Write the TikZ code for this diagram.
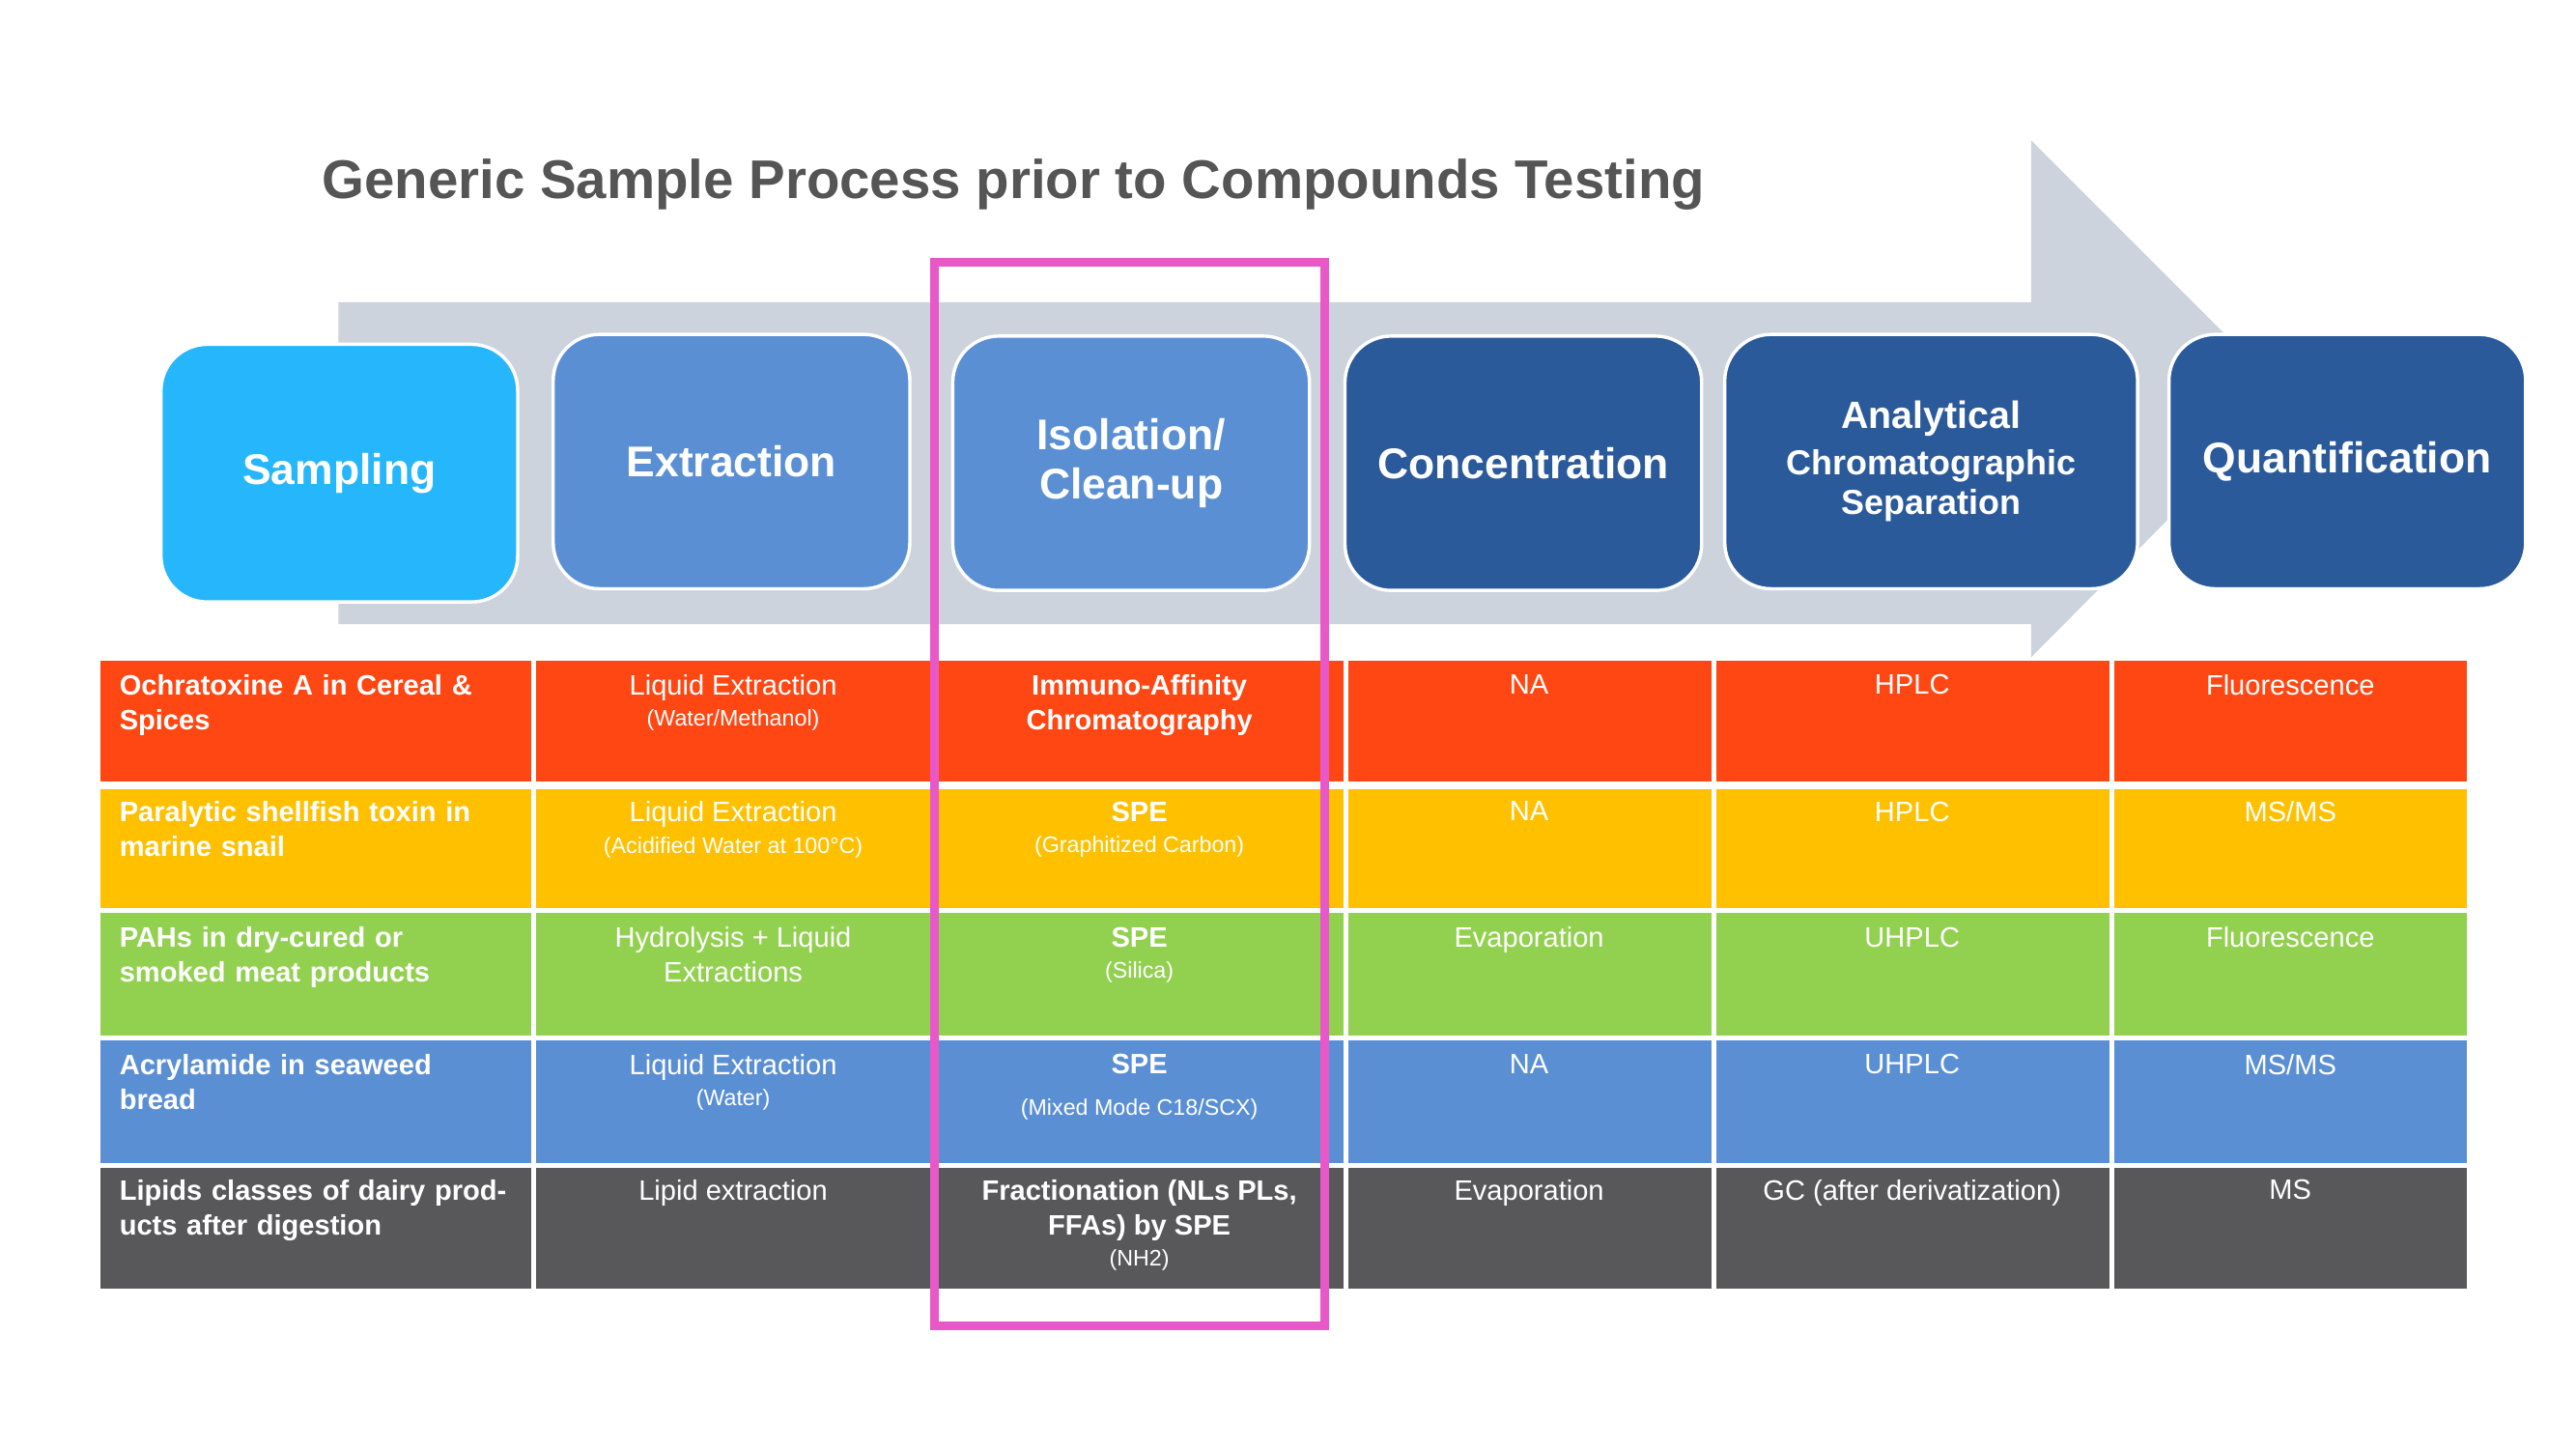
\documentclass[tikz,border=0pt]{standalone}
\usepackage{fontspec}
\setmainfont{Liberation Sans}
\usetikzlibrary{positioning}
\definecolor{arrowgray}{HTML}{CDD3DC}
\definecolor{skyblue}{HTML}{25B6FC}
\definecolor{midblue}{HTML}{5B8FD4}
\definecolor{darkblue}{HTML}{2B5A9B}
\definecolor{rowred}{HTML}{FF4713}
\definecolor{roworange}{HTML}{FFC000}
\definecolor{rowgreen}{HTML}{92D050}
\definecolor{rowgray}{HTML}{58585A}
\definecolor{titlegray}{HTML}{555555}
\definecolor{framepink}{HTML}{E958C8}
\tikzset{
  stepbox/.style={
    rectangle, rounded corners=14pt, draw=white, line width=1pt,
    minimum width=108pt, minimum height=77pt, text=white,
    font=\fontsize{13}{15}\selectfont\bfseries, align=center
  },
  celltxt/.style={
    anchor=north, text=white, align=center, inner sep=0pt,
    font=\fontsize{8.5}{10.5}\selectfont
  },
  firsttxt/.style={
    anchor=north west, text=white, align=left, inner sep=0pt,
    text width=118pt, font=\fontsize{8.5}{10.5}\selectfont\bfseries
  }
}
\newcommand{\subtxt}[1]{\\[-1pt]{\fontsize{6.8}{8}\selectfont #1}}
\newcommand{\cellrow}[3]{\fill[#1] (61,#2) rectangle (1494,#3);}

\begin{document}
\begin{tikzpicture}[x=0.5pt,y=-0.5pt]
\useasboundingbox (0,0) rectangle (1560,877);
\fill[white] (0,0) rectangle (1560,877);

% big arrow behind the steps
\fill[arrowgray] (205,183) -- (1230,183) -- (1230,85) -- (1386,241)
  -- (1230,398) -- (1230,378) -- (205,378) -- cycle;

\node[anchor=west, text=titlegray, font=\fontsize{16.5}{19}\selectfont\bfseries]
  (title) at (188,112) {Generic Sample Process prior to Compounds Testing};

% process steps
\node[stepbox, fill=skyblue, minimum height=78pt] (sampling) at (205.5,286.5) {Sampling};
\node[stepbox, fill=midblue] (extraction) at (443,279.5) {Extraction};
\node[stepbox, fill=midblue] (isolation) at (685,280.5) {Isolation/\\Clean-up};
\node[stepbox, fill=darkblue] (concentration) at (922.5,280.5) {Concentration};
\node[stepbox, fill=darkblue, minimum width=125pt,
  font=\fontsize{10.5}{12}\selectfont\bfseries] (analytical) at (1169.5,279.5)
  {{\fontsize{11.5}{13}\selectfont Analytical}\\[2pt]Chromatographic\\Separation};
\node[stepbox, fill=darkblue] (quantification) at (1421.5,279.5) {Quantification};

% table rows
\cellrow{rowred}{400}{473}
\cellrow{roworange}{478}{550}
\cellrow{rowgreen}{553}{627}
\cellrow{midblue}{630}{704}
\cellrow{rowgray}{707}{780}
\foreach \x in {323,566,815,1038,1279}
  \fill[white] (\x-1.5,400) rectangle (\x+1.5,780);
\foreach \y in {475.5,551.5,628.5,705.5}
  \fill[white] (61,\y-1.5) rectangle (1494,\y+1.5);

% row 1
\node[firsttxt] (r1c1) at (72,408) {Ochratoxine A in Cereal \& Spices};
\node[celltxt] (r1c2) at (444,408) {Liquid Extraction\subtxt{(Water/Methanol)}};
\node[celltxt, font=\fontsize{8.5}{10.5}\selectfont\bfseries] (r1c3) at (690,408) {Immuno-Affinity\\Chromatography};
\node[celltxt] (r1c4) at (926,408) {NA};
\node[celltxt] (r1c5) at (1158,408) {HPLC};
\node[celltxt] (r1c6) at (1387,408) {Fluorescence};
% row 2
\node[firsttxt] (r2c1) at (72,485) {Paralytic shellfish toxin in marine snail};
\node[celltxt] (r2c2) at (444,485) {Liquid Extraction\subtxt{(Acidified Water at 100°C)}};
\node[celltxt] (r2c3) at (690,485) {\textbf{SPE}\subtxt{(Graphitized Carbon)}};
\node[celltxt] (r2c4) at (926,485) {NA};
\node[celltxt] (r2c5) at (1158,485) {HPLC};
\node[celltxt] (r2c6) at (1387,485) {MS/MS};
% row 3
\node[firsttxt] (r3c1) at (72,561) {PAHs in dry-cured or smoked meat products};
\node[celltxt] (r3c2) at (444,561) {Hydrolysis + Liquid\\Extractions};
\node[celltxt] (r3c3) at (690,561) {\textbf{SPE}\subtxt{(Silica)}};
\node[celltxt] (r3c4) at (926,561) {Evaporation};
\node[celltxt] (r3c5) at (1158,561) {UHPLC};
\node[celltxt] (r3c6) at (1387,561) {Fluorescence};
% row 4
\node[firsttxt] (r4c1) at (72,638) {Acrylamide in seaweed bread};
\node[celltxt] (r4c2) at (444,638) {Liquid Extraction\subtxt{(Water)}};
\node[celltxt] (r4c3) at (690,638) {\textbf{SPE}\\[2pt]{\fontsize{6.8}{8}\selectfont (Mixed Mode C18/SCX)}};
\node[celltxt] (r4c4) at (926,638) {NA};
\node[celltxt] (r4c5) at (1158,638) {UHPLC};
\node[celltxt] (r4c6) at (1387,638) {MS/MS};
% row 5
\node[firsttxt] (r5c1) at (72,714) {Lipids classes of dairy products after digestion};
\node[celltxt] (r5c2) at (444,714) {Lipid extraction};
\node[celltxt] (r5c3) at (690,714) {\textbf{Fractionation (NLs PLs,}\\\textbf{FFAs) by SPE}\subtxt{(NH2)}};
\node[celltxt] (r5c4) at (926,714) {Evaporation};
\node[celltxt] (r5c5) at (1158,714) {GC (after derivatization)};
\node[celltxt] (r5c6) at (1387,714) {MS};

% highlight frame
\draw[framepink, line width=2.6pt] (566,159) rectangle (802,803);
\end{tikzpicture}
\end{document}
